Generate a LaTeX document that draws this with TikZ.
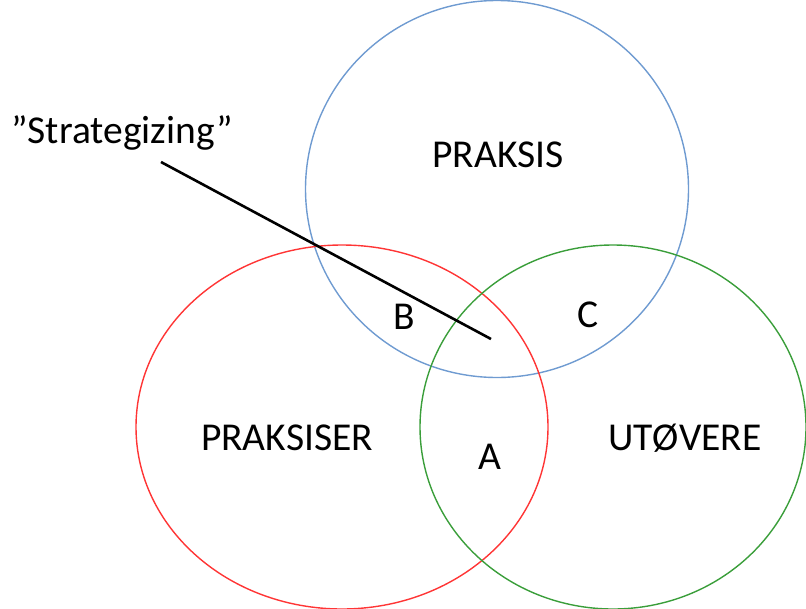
\documentclass[tikz,border=0pt]{standalone}
\usepackage{fontspec}
\setmainfont{Carlito}
\usetikzlibrary{positioning,shapes.geometric}
\definecolor{Praksis}{HTML}{6F9BD1}
\definecolor{Praksiser}{HTML}{FF3535}
\definecolor{Utovere}{HTML}{3A9E3A}

\begin{document}
\begin{tikzpicture}[x=1pt,y=-1pt,font=\fontsize{39.5}{42}\selectfont,every node/.style={align=center}]
  \useasboundingbox (0,0) rectangle (806,608);
  \tikzset{set/.style={draw,ellipse,line width=1.4pt,inner sep=0pt}}
  \node[set,draw=Praksis,minimum width=383pt,minimum height=377pt] (praksis) at (497,189) {};
  \node[set,draw=Praksiser,minimum width=412pt,minimum height=364pt] (praksiser) at (342,427) {};
  \node[set,draw=Utovere,minimum width=386pt,minimum height=364pt] (utovere) at (613,427) {};
  \node (lpraksis) at (498,155) {PRAKSIS};
  \node (lpraksiser) at (287,438) {PRAKSISER};
  \node (lutovere) at (685,438) {UTØVERE};
  \node (a) at (490,457) {A};
  \node (b) at (404,317) {B};
  \node (c) at (588,315) {C};
  \node (strat) at (122,133) {”Strategizing”};
  \coordinate (s1) at (161,162);\coordinate (s2) at (491,339);
  \draw[line width=2.6pt](s1)--(s2);
\end{tikzpicture}
\end{document}
